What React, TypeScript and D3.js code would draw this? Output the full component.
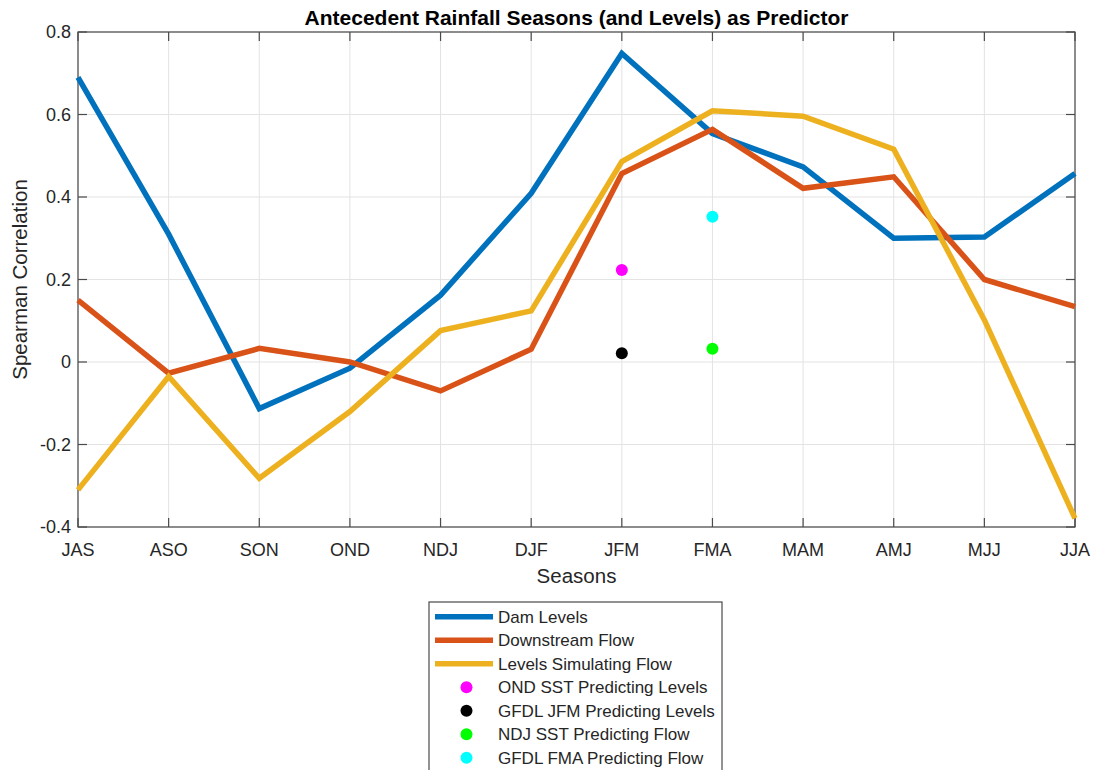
import React from "react";
import * as d3 from "d3";

const seasons = ["JAS", "ASO", "SON", "OND", "NDJ", "DJF", "JFM", "FMA", "MAM", "AMJ", "MJJ", "JJA"];
const damLevels = [0.69, 0.31, -0.113, -0.015, 0.162, 0.409, 0.748, 0.554, 0.473, 0.3, 0.303, 0.457];
const downstreamFlow = [0.15, -0.027, 0.033, 0.0, -0.07, 0.031, 0.457, 0.564, 0.421, 0.449, 0.2, 0.134];
const levelsSimFlow = [-0.31, -0.035, -0.282, -0.12, 0.076, 0.124, 0.486, 0.609, 0.596, 0.516, 0.102, -0.379];
const yTicks = [-0.4, -0.2, 0, 0.2, 0.4, 0.6, 0.8];
const yTickLabels = ["-0.4", "-0.2", "0", "0.2", "0.4", "0.6", "0.8"];

const lineSeries = [
  { name: "Dam Levels", values: damLevels, color: "#0072BD" },
  { name: "Downstream Flow", values: downstreamFlow, color: "#D95319" },
  { name: "Levels Simulating Flow", values: levelsSimFlow, color: "#EDB120" },
];

const pointSeries = [
  { name: "OND SST Predicting Levels", season: "JFM", value: 0.223, color: "#FF00FF" },
  { name: "GFDL JFM Predicting Levels", season: "JFM", value: 0.021, color: "#000000" },
  { name: "NDJ SST Predicting Flow", season: "FMA", value: 0.032, color: "#00FF00" },
  { name: "GFDL FMA Predicting Flow", season: "FMA", value: 0.352, color: "#00FFFF" },
];

const W = 1094;
const H = 770;
const left = 78;
const right = 1075;
const top = 32;
const bottom = 527;
const font = "'Liberation Sans', Arial, Helvetica, sans-serif";
const axisColor = "#4a4a4a";
const textColor = "#262626";
const gridColor = "#e3e3e3";

export default function App() {
  const x = d3.scalePoint<string>().domain(seasons).range([left, right]);
  const y = d3.scaleLinear().domain([-0.4, 0.8]).range([bottom, top]);
  const line = d3
    .line<number>()
    .x((_, i) => x(seasons[i]) as number)
    .y((d) => y(d));

  const tickLen = 9;
  const legX = 429;
  const legY = 602;
  const legW = 293;
  const rowH = 23.5;
  const legendItems = [
    ...lineSeries.map((s) => ({ name: s.name, color: s.color, kind: "line" })),
    ...pointSeries.map((s) => ({ name: s.name, color: s.color, kind: "dot" })),
  ];

  return (
    <svg
      width={W}
      height={H}
      style={{ position: "absolute", left: 0, top: 0, background: "#fff" }}
      fontFamily={font}
    >
      <rect x={0} y={0} width={W} height={H} fill="#fff" />
      {/* grid */}
      {seasons.map((s) => (
        <line key={"gx" + s} x1={x(s)} x2={x(s)} y1={top} y2={bottom} stroke={gridColor} strokeWidth={1} />
      ))}
      {yTicks.map((t) => (
        <line key={"gy" + t} x1={left} x2={right} y1={y(t)} y2={y(t)} stroke={gridColor} strokeWidth={1} />
      ))}
      {/* box */}
      <rect x={left} y={top} width={right - left} height={bottom - top} fill="none" stroke={axisColor} strokeWidth={1.2} />
      {/* ticks */}
      {seasons.map((s) => (
        <g key={"tx" + s}>
          <line x1={x(s)} x2={x(s)} y1={bottom} y2={bottom - tickLen} stroke={axisColor} strokeWidth={1.2} />
          <line x1={x(s)} x2={x(s)} y1={top} y2={top + tickLen} stroke={axisColor} strokeWidth={1.2} />
          <text x={x(s)} y={556} textAnchor="middle" fontSize={18} fill={textColor}>
            {s}
          </text>
        </g>
      ))}
      {yTicks.map((t, i) => (
        <g key={"ty" + t}>
          <line x1={left} x2={left + tickLen} y1={y(t)} y2={y(t)} stroke={axisColor} strokeWidth={1.2} />
          <line x1={right} x2={right - tickLen} y1={y(t)} y2={y(t)} stroke={axisColor} strokeWidth={1.2} />
          <text x={71} y={y(t) + 6} textAnchor="end" fontSize={18} fill={textColor}>
            {yTickLabels[i]}
          </text>
        </g>
      ))}
      {/* lines */}
      {lineSeries.map((s) => (
        <path
          key={s.name}
          d={line(s.values) as string}
          fill="none"
          stroke={s.color}
          strokeWidth={5.5}
          strokeLinejoin="miter"
        />
      ))}
      {pointSeries.map((p) => (
        <circle key={p.name} cx={x(p.season)} cy={y(p.value)} r={6} fill={p.color} />
      ))}
      {/* labels */}
      <text x={(left + right) / 2} y={25} textAnchor="middle" fontSize={21} fontWeight="bold" fill="#000">
        Antecedent Rainfall Seasons (and Levels) as Predictor
      </text>
      <text x={(left + right) / 2} y={583} textAnchor="middle" fontSize={20.5} fill={textColor}>
        Seasons
      </text>
      <text
        transform={`translate(27, ${(top + bottom) / 2}) rotate(-90)`}
        textAnchor="middle"
        fontSize={20.5}
        fill={textColor}
      >
        Spearman Correlation
      </text>
      {/* legend */}
      <rect x={legX} y={legY} width={legW} height={H - legY + 10} fill="#fff" stroke={axisColor} strokeWidth={1.2} />
      {legendItems.map((it, i) => {
        const cy = 616.7 + i * rowH;
        return (
          <g key={"leg" + it.name}>
            {it.kind === "line" ? (
              <line x1={435} x2={493} y1={cy} y2={cy} stroke={it.color} strokeWidth={5.5} />
            ) : (
              <circle cx={466.5} cy={cy} r={6} fill={it.color} />
            )}
            <text x={498} y={cy + 6} fontSize={17} fill={textColor}>
              {it.name}
            </text>
          </g>
        );
      })}
    </svg>
  );
}
